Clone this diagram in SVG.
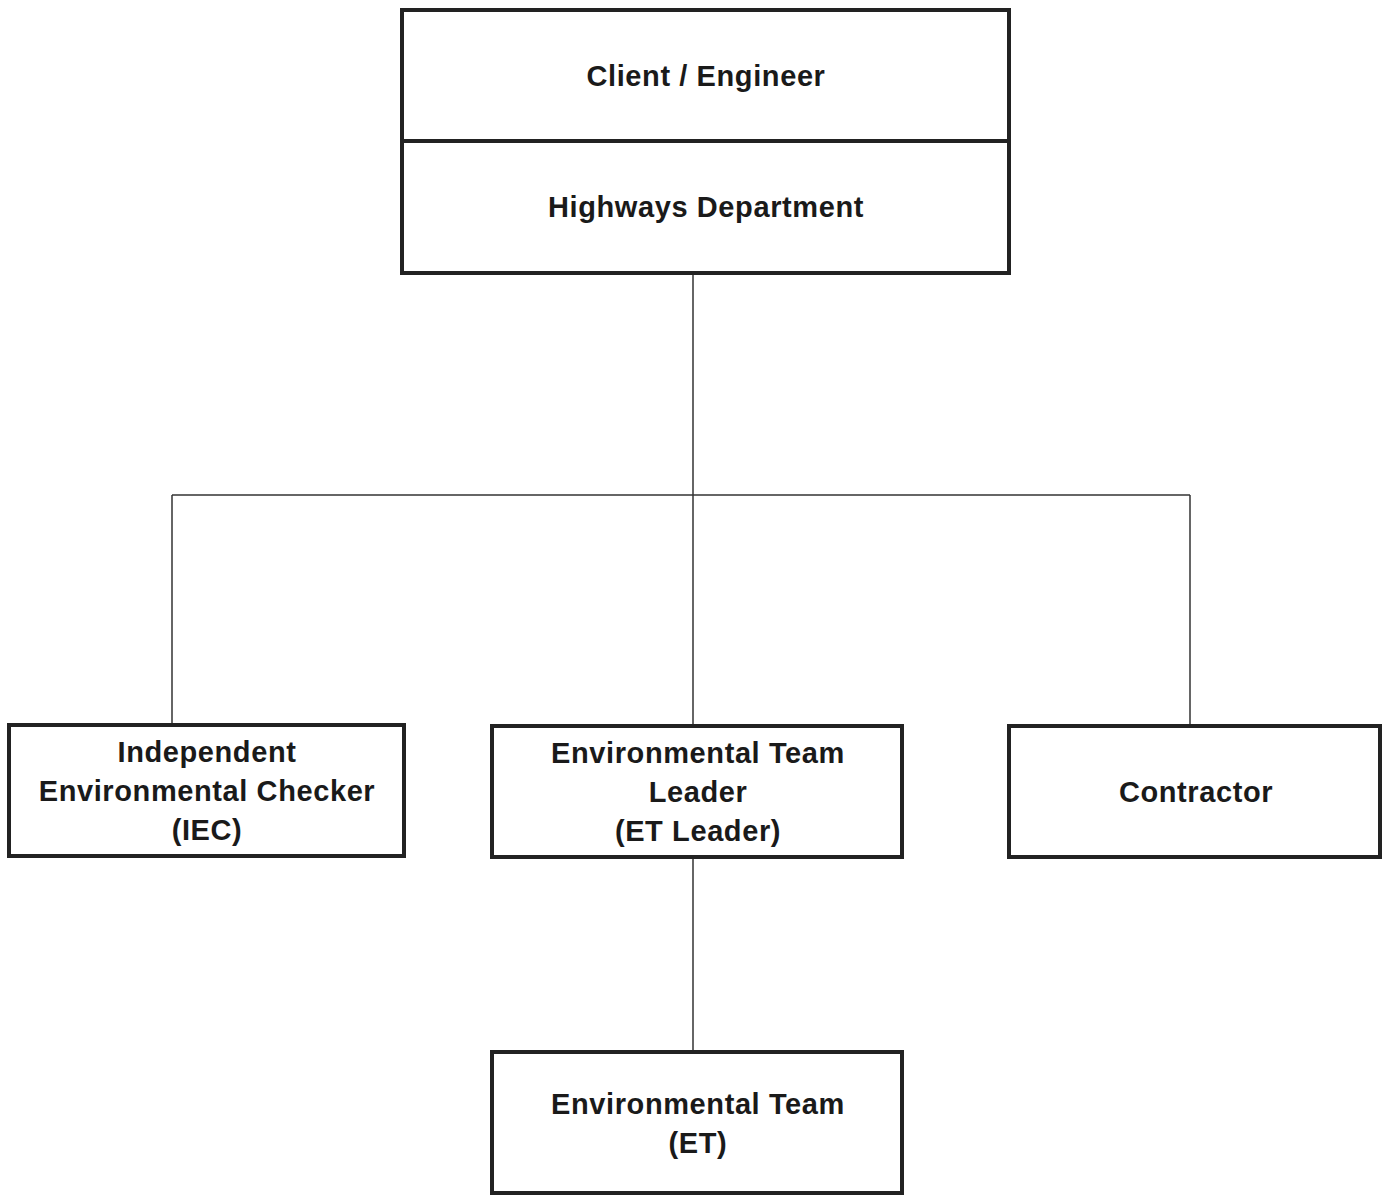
<svg xmlns="http://www.w3.org/2000/svg" width="1391" height="1195" viewBox="0 0 1391 1195">
<style>
.box{fill:#fff;stroke:#222;stroke-width:4}
.conn{fill:none;stroke:#333;stroke-width:1.5}
text{font-family:"Liberation Sans",Arial,sans-serif;font-size:29px;font-weight:bold;fill:#1a1a1a;text-anchor:middle;letter-spacing:0.6px}
</style>
<rect width="1391" height="1195" fill="#fff"/>
<g id="connectors">
<line class="conn" x1="693" y1="273" x2="693" y2="725"/>
<line class="conn" x1="172" y1="495" x2="1190" y2="495"/>
<line class="conn" x1="172" y1="495" x2="172" y2="725"/>
<line class="conn" x1="1190" y1="495" x2="1190" y2="726"/>
<line class="conn" x1="693" y1="857" x2="693" y2="1052"/>
</g>
<g id="client">
<rect class="box" x="402" y="10" width="607" height="263"/>
<line x1="402" y1="141" x2="1009" y2="141" stroke="#222" stroke-width="4"/>
<text x="706" y="86">Client / Engineer</text>
<text x="706" y="217">Highways Department</text>
</g>
<g id="iec">
<rect class="box" x="9" y="725" width="395" height="131"/>
<text x="207" y="762">Independent</text>
<text x="207" y="801">Environmental Checker</text>
<text x="207" y="840">(IEC)</text>
</g>
<g id="etleader">
<rect class="box" x="492" y="726" width="410" height="131"/>
<text x="698" y="763">Environmental Team</text>
<text x="698" y="802">Leader</text>
<text x="698" y="841">(ET Leader)</text>
</g>
<g id="contractor">
<rect class="box" x="1009" y="726" width="371" height="131"/>
<text x="1196" y="802">Contractor</text>
</g>
<g id="et">
<rect class="box" x="492" y="1052" width="410" height="141"/>
<text x="698" y="1114">Environmental Team</text>
<text x="698" y="1153">(ET)</text>
</g>
</svg>
